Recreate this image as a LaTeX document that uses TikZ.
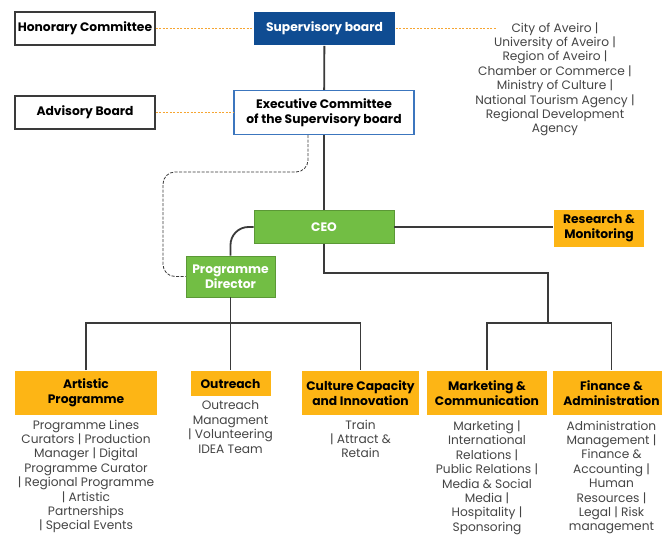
\documentclass[tikz,border=0pt]{standalone}
\usepackage{fontspec}
\setmainfont{Poppins}
\usetikzlibrary{positioning}
\definecolor{boardblue}{HTML}{0F4C92}
\definecolor{execblue}{HTML}{3C76BE}
\definecolor{ceogreen}{HTML}{72BE44}
\definecolor{deptorange}{HTML}{FDB515}
\definecolor{linkgray}{HTML}{3A3A3A}
\definecolor{dashorange}{HTML}{F6A531}
\definecolor{listgray}{HTML}{454545}

\begin{document}
\begin{tikzpicture}
    [
      x=1pt, y=-1pt,
      line width=1.8pt, draw=linkgray,
      my box/.style={rectangle, inner sep=0pt, align=center, font=\fontsize{12.3}{15}\selectfont\bfseries},
      outline box/.style={my box, draw=linkgray, line width=1.2pt, fill=white},
      board box/.style={my box, fill=boardblue, text=white},
      exec box/.style={my box, draw=execblue, line width=1.4pt, fill=white},
      green box/.style={my box, fill=ceogreen, draw=ceogreen!80!black, line width=0.8pt, text=white},
      dept box/.style={my box, fill=deptorange},
      my list/.style={inner sep=0pt, align=center, text=listgray, font=\fontsize{12.2}{14.4}\selectfont},
      orange dash/.style={draw=dashorange, line width=0.9pt, dash pattern=on 2pt off 1.5pt},
      gray dash/.style={draw=linkgray, line width=0.8pt, dash pattern=on 3pt off 1.5pt, rounded corners=12pt}
    ]
    \path [fill=white] (0,0) rectangle (662,535);
    \useasboundingbox (0,0) rectangle (662,535);

    \node (hon) [outline box, minimum width=140pt, minimum height=33pt] at (85,28.5) {Honorary Committee};
    \node (sup) [board box, minimum width=141pt, minimum height=33pt] at (324.5,28.5) {Supervisory board};
    \node (adv) [outline box, minimum width=140pt, minimum height=33pt] at (85,112.5) {Advisory Board};
    \node (exec) [exec box, minimum width=180pt, minimum height=44pt] at (324,112.5) {Executive Committee\\of the Supervisory board};
    \node (city) [my list, anchor=north] at (555,21.5) {City of Aveiro |\\University of Aveiro |\\Region of Aveiro |\\Chamber or Commerce |\\Ministry of Culture |\\National Tourism Agency |\\Regional Development\\Agency};
    \coordinate (city end) at (497,28.5);

    \node (ceo) [green box, minimum width=140pt, minimum height=33pt] at (324,227) {CEO};
    \node (res) [dept box, minimum width=90pt, minimum height=37pt] at (599,228) {Research \&\\Monitoring};
    \node (pd) [green box, minimum width=89pt, minimum height=41pt] at (230.5,276.5) {Programme\\Director};

    \node (art) [dept box, minimum width=142pt, minimum height=44pt] at (86,393) {Artistic\\Programme};
    \node (out) [dept box, minimum width=80pt, minimum height=25pt] at (230.5,383.5) {Outreach};
    \node (cul) [dept box, minimum width=117pt, minimum height=44pt] at (360.5,393) {Culture Capacity\\and Innovation};
    \node (mkt) [dept box, minimum width=120pt, minimum height=44pt] at (487,393) {Marketing \&\\Communication};
    \node (fin) [dept box, minimum width=117pt, minimum height=44pt] at (611.5,393) {Finance \&\\Administration};

    \node (art list) [my list, below=3pt of art] {Programme Lines\\Curators | Production\\Manager | Digital\\Programme Curator\\| Regional Programme\\| Artistic\\Partnerships\\| Special Events};
    \node (out list) [my list, below=3pt of out] {Outreach\\Managment\\| Volunteering\\IDEA Team};
    \node (cul list) [my list, below=3pt of cul] {Train\\| Attract \&\\Retain};
    \node (mkt list) [my list, below=4pt of mkt] {Marketing |\\International\\Relations |\\Public Relations |\\Media \& Social\\Media |\\Hospitality |\\Sponsoring};
    \node (fin list) [my list, below=4pt of fin] {Administration\\Management |\\Finance \&\\Accounting |\\Human\\Resources |\\Legal | Risk\\management};

    \path [draw, orange dash] (hon) -- (sup);
    \path [draw, orange dash] (sup) -- (city end);
    \path [draw, orange dash] (adv) -- (exec);

    \path [draw] (sup) -- (exec);
    \path [draw] (exec) -- (ceo);
    \path [draw] (ceo.east) -- (ceo.east -| res.west);
    \path [draw, rounded corners=18pt] (ceo.west) -| (pd.north);
    \path [draw, gray dash] ([xshift=-16pt]exec.south) |- (163,172) |- (pd.west);

    \coordinate (left bus) at (230.5,323);
    \path [draw] (pd) -- (out);
    \path [draw] (art.north) |- (left bus) -| (cul.north);

    \coordinate (right turn) at (548,273);
    \coordinate (right bus) at (548,323);
    \path [draw] (ceo.south) |- (right turn) -- (right bus);
    \path [draw] (mkt.north) |- (right bus) -| (fin.north);
  \end{tikzpicture}
\end{document}
